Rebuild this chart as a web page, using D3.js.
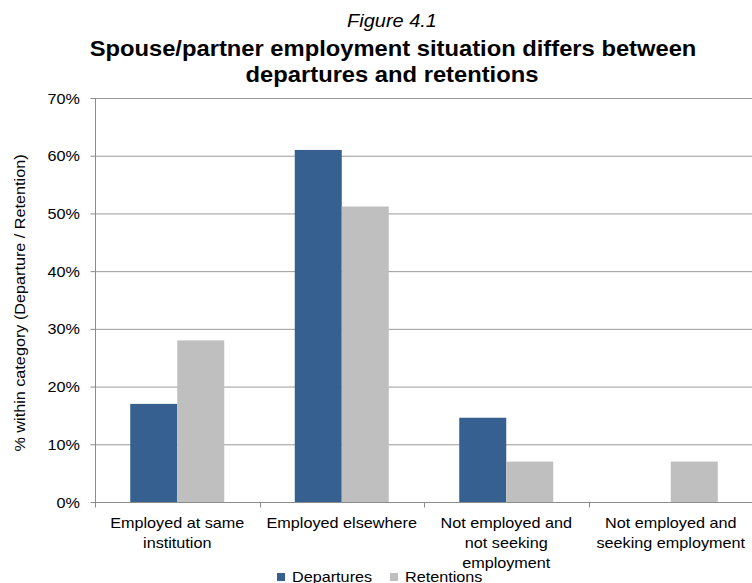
<!DOCTYPE html>
<html>
<head>
<meta charset="utf-8">
<script src="https://cdn.jsdelivr.net/npm/d3@7"></script>
<style>
  html, body { margin: 0; padding: 0; background: #fff; }
  svg { display: block; font-family: "Liberation Sans", Arial, sans-serif; }
</style>
</head>
<body>
<svg id="chart" width="752" height="583"></svg>
<script>
// Spouse/partner employment situation, share within each group
const categories = [
  ["Employed at same", "institution"],
  ["Employed elsewhere"],
  ["Not employed and", "not seeking", "employment"],
  ["Not employed and", "seeking employment"]
];
const seriesNames = ["Departures", "Retentions"];
const departures = [0.17, 0.61, 0.146, 0];
const retentions = [0.28, 0.512, 0.07, 0.07];
const yTicks = [0, 0.1, 0.2, 0.3, 0.4, 0.5, 0.6, 0.7];
const colors = ["#36608f", "#bfbfbf"];

// Text is drawn slightly wide along its baseline
const SX = 1.08;

const svg = d3.select("#chart");
const margin = { left: 95, right: -1, top: 98, bottom: 81 };
const W = 752, H = 583;
const x0 = margin.left, x1 = W - margin.right;
const yTop = margin.top, yBot = H - margin.bottom;

const x = d3.scaleBand().domain(d3.range(categories.length)).range([x0, x1]).paddingInner(0).paddingOuter(0);
// 150% gap width: two bars + 1.5 bar widths of gap per category
const barW = x.bandwidth() / 3.5;
const y = d3.scaleLinear().domain([0, 0.7]).range([yBot, yTop]);

function label(parent, px, py, txt, opts) {
  const o = Object.assign({ size: 15, anchor: "middle", weight: "normal", style: "normal", rotate: 0, sx: SX }, opts || {});
  return parent.append("text")
    .attr("transform", `translate(${px},${py}) rotate(${o.rotate}) scale(${o.sx},1)`)
    .attr("text-anchor", o.anchor)
    .attr("font-size", o.size)
    .attr("font-weight", o.weight)
    .attr("font-style", o.style)
    .attr("fill", "#000")
    .text(txt);
}

// Gridlines
svg.append("g")
  .selectAll("line")
  .data(yTicks.slice(1))
  .join("line")
  .attr("x1", x0).attr("x2", x1)
  .attr("y1", d => y(d) + 0.5).attr("y2", d => y(d) + 0.5)
  .attr("stroke", "#9a9a9a").attr("stroke-width", 1);

// Bars
const data = categories.map((c, i) => [departures[i], retentions[i]]);
const groups = svg.append("g").selectAll("g")
  .data(data).join("g")
  .attr("transform", (d, i) => `translate(${x(i) + barW * 0.75},0)`);
groups.selectAll("rect")
  .data(d => d)
  .join("rect")
  .attr("x", (d, j) => j * barW)
  .attr("width", barW)
  .attr("y", d => y(d))
  .attr("height", d => yBot - y(d))
  .attr("fill", (d, j) => colors[j]);

// Y axis
const yAxis = svg.append("g")
  .attr("transform", `translate(${x0 + 0.5},0)`)
  .call(d3.axisLeft(y).tickValues(yTicks).tickFormat("").tickSize(5));
yAxis.select(".domain").attr("stroke", "#8c8c8c").attr("d", `M0,${yTop}V${yBot}`);
yAxis.selectAll(".tick line").attr("stroke", "#8c8c8c");
const fmt = d3.format(".0%");
yTicks.forEach(t => label(svg, 80, y(t) + 5.5, fmt(t), { anchor: "end" }));

// X axis
const xAxis = svg.append("g").attr("transform", `translate(0,${yBot + 0.5})`);
xAxis.append("line").attr("x1", x0).attr("x2", x1).attr("stroke", "#8c8c8c");
xAxis.selectAll("line.tk")
  .data(d3.range(categories.length + 1))
  .join("line").attr("class", "tk")
  .attr("x1", i => Math.round(x0 + i * x.bandwidth()) + 0.5)
  .attr("x2", i => Math.round(x0 + i * x.bandwidth()) + 0.5)
  .attr("y1", 0).attr("y2", 5).attr("stroke", "#8c8c8c");
categories.forEach((lines, i) => {
  lines.forEach((ln, k) => label(xAxis, x(i) + x.bandwidth() / 2, 25 + k * 20, ln));
});

// Y axis title
label(svg, 25, (yTop + yBot) / 2 + 3, "% within category (Departure / Retention)", { rotate: -90 });

// Titles
label(svg, 392, 27, "Figure 4.1", { size: 18.5, style: "italic" });
label(svg, 393, 56, "Spouse/partner employment situation differs between", { size: 22, weight: "bold" });
label(svg, 392, 82, "departures and retentions", { size: 22, weight: "bold" });

// Legend
const legendX = [277, 390];
seriesNames.forEach((name, i) => {
  svg.append("rect").attr("x", legendX[i]).attr("y", 573).attr("width", 8).attr("height", 8).attr("fill", colors[i]);
  label(svg, legendX[i] + 15, 581.5, name, { anchor: "start" });
});
</script>
</body>
</html>
